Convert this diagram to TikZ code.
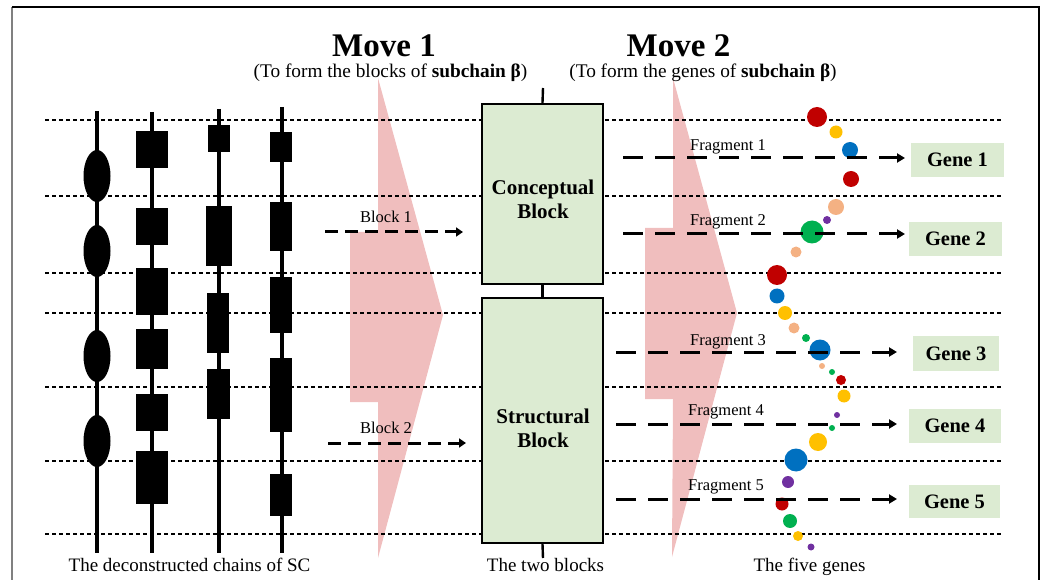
\documentclass[tikz,border=0pt]{standalone}
\usepackage{fontspec}
\setmainfont{Liberation Serif}
\usetikzlibrary{arrows.meta}

\definecolor{blockgreen}{RGB}{220,235,210}
\definecolor{movepink}{RGB}{240,190,190}
\definecolor{dotred}{RGB}{192,0,0}
\definecolor{dotyellow}{RGB}{255,192,0}
\definecolor{dotblue}{RGB}{0,112,192}
\definecolor{dotgreen}{RGB}{0,176,80}
\definecolor{dotpeach}{RGB}{244,177,131}
\definecolor{dotpurple}{RGB}{112,48,160}

\tikzset{
  guide/.style={line width=1.2pt, dash pattern=on 4pt off 3pt},
  chainline/.style={line width=3.5pt},
  movearrow/.style={fill=movepink, draw=none},
  blockbox/.style={draw=black, line width=2.4pt, fill=blockgreen, inner sep=0pt},
  stem/.style={line width=2.4pt},
  blocktext/.style={font=\bfseries\fontsize{21}{24}\selectfont, anchor=base, inner sep=0pt},
  genebox/.style={fill=blockgreen, draw=none, inner sep=0pt,
                  font=\bfseries\fontsize{20.5}{24}\selectfont},
  blockarrow/.style={line width=3pt, dash pattern=on 13pt off 7pt,
                     -{Triangle[length=7pt,width=9pt]}},
  fragarrow/.style={line width=3pt, dash pattern=on 20pt off 12pt,
                    -{Triangle[length=8pt,width=9pt]}},
  smalllabel/.style={font=\fontsize{16.5}{19}\selectfont, anchor=base, inner sep=0pt},
  caption/.style={font=\fontsize{19}{22}\selectfont, anchor=base, inner sep=0pt},
  movetitle/.style={font=\bfseries\fontsize{33}{36}\selectfont, anchor=base, inner sep=0pt},
  subtitle/.style={font=\fontsize{19.3}{22}\selectfont, anchor=base, inner sep=0pt},
}

\begin{document}
\begin{tikzpicture}[x=1pt,y=-1pt]
\useasboundingbox (0,0) rectangle (1045,580);

% outer frame (open at the bottom)
\draw[gray, line width=1.2pt] (12,7) -- (12,580);
\draw[line width=2pt] (12,7) -- (1039,7) -- (1039,580);

% the two large move arrows
\fill[movearrow] (378,78) -- (443,315) -- (378,558) -- (378,402) -- (350,402)
  -- (350,232) -- (378,232) -- cycle;
\fill[movearrow] (673,78) -- (737,313) -- (672,557) -- (673,399) -- (645,399)
  -- (645,228) -- (673,228) -- cycle;

% horizontal guide lines
\foreach \gy in {120,196,273,313,387,461,534}
  \draw[guide] (45,\gy) -- (1001,\gy);

% chain 1: ellipses
\draw[chainline] (97,111) -- (97,553);
\foreach \cy in {176,251,356,441}
  \fill (97,\cy) ellipse [x radius=13.5pt, y radius=26pt];

% chain 2
\draw[chainline] (152,112) -- (152,553);
\foreach \ya/\yb in {131/168,208/245,268/315,329/369,394/431,451/504}
  \fill (136,\ya) rectangle (168,\yb);

% chain 3
\draw[chainline] (219,109) -- (219,553);
\fill (208,125) rectangle (230,152);
\fill (206,206) rectangle (232,266);
\fill (207,293) rectangle (229,353);
\fill (207,369) rectangle (230,419);

% chain 4
\draw[chainline] (282,107) -- (282,553);
\foreach \ya/\yb in {132/162,202/251,277/333,358/432,474/516}
  \fill (270,\ya) rectangle (292,\yb);

% the two blocks
\node[blockbox, minimum width=121pt, minimum height=180pt] (cb) at (542.5,194) {};
\node[blockbox, minimum width=121pt, minimum height=245pt] (sb) at (542.5,420.5) {};
\coordinate (stemtop) at (543,88);
\coordinate (stembot) at (543,558);
\draw[stem] (stemtop) -- (cb.north);
\draw[stem] (cb.south) -- (sb.north);
\draw[stem] (sb.south) -- (stembot);
\node[blocktext] (cbt1) at (543,195) {Conceptual};
\node[blocktext] (cbt2) at (543,219) {Block};
\node[blocktext] (sbt1) at (543,423) {Structural};
\node[blocktext] (sbt2) at (543,447) {Block};

% block arrows
\coordinate (b1s) at (325,232);
\coordinate (b1e) at (463,232);
\coordinate (b2s) at (328,443);
\coordinate (b2e) at (466,443);
\draw[blockarrow] (b1s) -- (b1e);
\draw[blockarrow] (b2s) -- (b2e);
\node[smalllabel] (b1l) at (386,223) {Block 1};
\node[smalllabel] (b2l) at (386,433) {Block 2};

% coloured dots of the genes
\foreach \px/\py/\pr/\pc in {
  817/117/10/dotred, 836/132/6.5/dotyellow, 850/150/8/dotblue, 851/179/8/dotred,
  836/207/8/dotpeach, 827/220/4/dotpurple, 812/232/11.5/dotgreen, 796/252/5.5/dotpeach,
  777/275/10/dotred, 777/296/7.5/dotblue, 785/313/7/dotyellow, 794/328/5.5/dotpeach,
  806/338/4/dotgreen, 820/350/10.5/dotblue, 822/366/3/dotpeach, 832/372/3/dotgreen,
  841/380/5/dotred, 844/396/6.5/dotyellow, 837/415/3/dotpurple, 832/428/3/dotgreen,
  818/442/9/dotyellow, 796/460/11.5/dotblue, 788/482/6/dotpurple, 782/504/6.5/dotred,
  790/521/7/dotgreen, 798/536/5/dotyellow, 811/547/3.5/dotpurple}
  \fill[\pc] (\px,\py) circle (\pr pt);

% genes
\node[genebox, minimum width=93pt, minimum height=34pt] (g1) at (957.5,160) {Gene 1};
\node[genebox, minimum width=93pt, minimum height=34pt] (g2) at (955.5,239) {Gene 2};
\node[genebox, minimum width=86pt, minimum height=35pt] (g3) at (956,353.5) {Gene 3};
\node[genebox, minimum width=92pt, minimum height=34pt] (g4) at (955,426) {Gene 4};
\node[genebox, minimum width=91pt, minimum height=33pt] (g5) at (954.5,501.5) {Gene 5};

% fragment arrows
\coordinate (f1s) at (623,158);  \coordinate (f1e) at (905,158);
\coordinate (f2s) at (623,234);  \coordinate (f2e) at (905,234);
\coordinate (f3s) at (616,352);  \coordinate (f3e) at (897,352);
\coordinate (f4s) at (616,424);  \coordinate (f4e) at (897,424);
\coordinate (f5s) at (616,499);  \coordinate (f5e) at (897,499);
\draw[fragarrow] (f1s) -- (f1e);
\draw[fragarrow] (f2s) -- (f2e);
\draw[fragarrow] (f3s) -- (f3e);
\draw[fragarrow] (f4s) -- (f4e);
\draw[fragarrow] (f5s) -- (f5e);
\node[smalllabel] (fl1) at (728,151) {Fragment 1};
\node[smalllabel] (fl2) at (728,226) {Fragment 2};
\node[smalllabel] (fl3) at (728,345) {Fragment 3};
\node[smalllabel] (fl4) at (726,415) {Fragment 4};
\node[smalllabel] (fl5) at (726,490) {Fragment 5};

% titles
\node[movetitle] (m1) at (384,57) {Move 1};
\node[movetitle] (m2) at (678.5,57) {Move 2};
\node[subtitle] (s1) at (390.5,78) {(To form the blocks of \textbf{subchain β})};
\node[subtitle] (s2) at (703,78) {(To form the genes of \textbf{subchain β})};

% captions
\node[caption] (c1) at (189.5,571) {The deconstructed chains of SC};
\node[caption] (c2) at (545.5,571) {The two blocks};
\node[caption] (c3) at (809.5,571) {The five genes};
\end{tikzpicture}
\end{document}
